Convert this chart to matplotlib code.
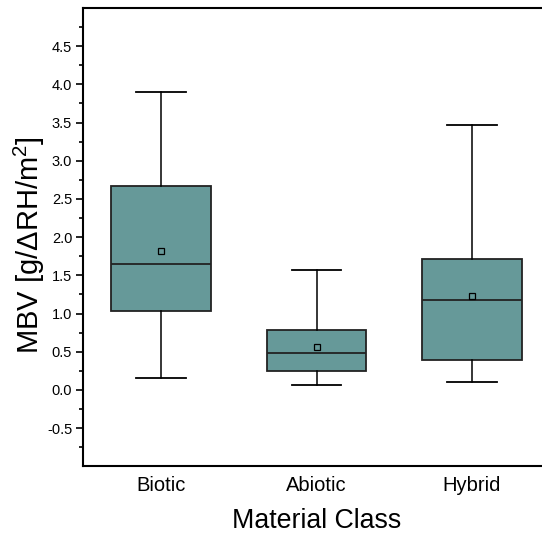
import matplotlib
matplotlib.use("Agg")
import matplotlib.pyplot as plt
import numpy as np

# Data
categories = ["Biotic", "Abiotic", "Hybrid"]
whisker_low = [0.15, 0.06, 0.10]
q1_vals = [1.03, 0.25, 0.39]
medians = [1.65, 0.48, 1.18]
q3_vals = [2.67, 0.78, 1.71]
whisker_high = [3.90, 1.57, 3.47]
means = [1.82, 0.56, 1.23]

y_major = [-0.5, 0.0, 0.5, 1.0, 1.5, 2.0, 2.5, 3.0, 3.5, 4.0, 4.5]
y_minor = [-0.75, -0.25, 0.25, 0.75, 1.25, 1.75, 2.25, 2.75, 3.25, 3.75, 4.25, 4.75]

plt.rcParams['font.family'] = ['Liberation Sans', 'DejaVu Sans']

box_color = "#669999"

fig = plt.figure(figsize=(5.42, 5.35), dpi=100)
ax = fig.add_axes([83.3 / 542, (535 - 466.3) / 535, 466.5 / 542, 458.3 / 535])

stats = []
for i, c in enumerate(categories):
    stats.append(dict(label=c, whislo=whisker_low[i], q1=q1_vals[i], med=medians[i],
                      q3=q3_vals[i], whishi=whisker_high[i], mean=means[i], fliers=[]))

ax.bxp(stats, positions=[1, 2, 3], widths=0.64, capwidths=0.32, patch_artist=True,
       showmeans=True, showfliers=False,
       boxprops=dict(facecolor=box_color, edgecolor="#222222", linewidth=1.3),
       medianprops=dict(color="#222222", linewidth=1.3),
       whiskerprops=dict(color="black", linewidth=1.1),
       capprops=dict(color="black", linewidth=1.3),
       meanprops=dict(marker="s", markersize=5, markerfacecolor="none",
                      markeredgecolor="black", markeredgewidth=0.9))

ax.set_xlim(0.5, 3.5)
ax.set_ylim(-1.0, 5.0)
ax.set_yticks(y_major)
ax.set_yticklabels([f"{v:.1f}" for v in y_major])
ax.set_yticks(y_minor, minor=True)
ax.tick_params(axis='y', which='major', length=5, width=1.2, labelsize=10.5, pad=3, direction='out')
ax.tick_params(axis='y', which='minor', length=3, width=1.2, direction='out')
ax.tick_params(axis='x', which='both', length=0, labelsize=14.5, pad=7)

for s in ['left', 'top', 'bottom', 'right']:
    ax.spines[s].set_linewidth(1.5)

ax.set_ylabel("MBV [g/\u0394RH/m$\\mathregular{^2}$]", fontsize=21, labelpad=1)
ax.yaxis.set_label_coords(-0.078, 0.483)
ax.set_xlabel("Material Class", fontsize=19.3, labelpad=9)

fig.savefig("out.png", dpi=100)
